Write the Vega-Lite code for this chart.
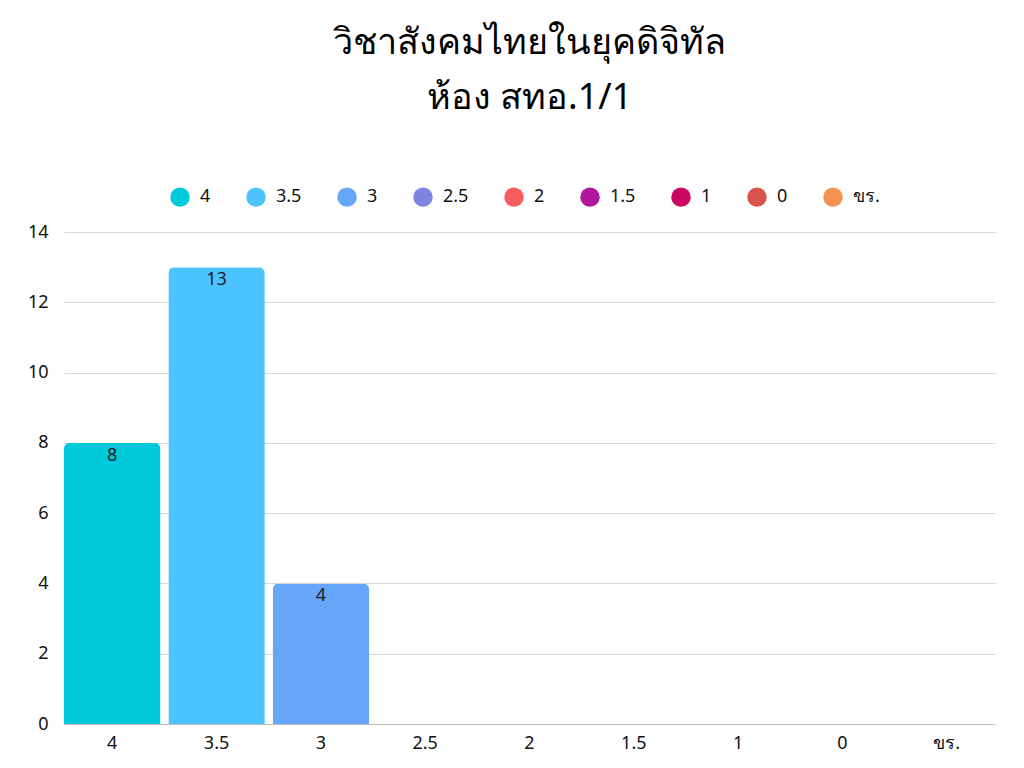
{
  "$schema": "https://vega.github.io/schema/vega-lite/v6.json",
  "width": 931,
  "height": 492,
  "autosize": {"type": "none"},
  "padding": {"left": 64, "top": 232, "right": 29, "bottom": 44},
  "background": "white",
  "config": {"view": {"stroke": null}},
  "title": {
    "text": ["วิชาสังคมไทยในยุคดิจิทัล", "ห้อง สทอ.1/1"],
    "font": "Noto Sans",
    "fontSize": 36,
    "fontWeight": "normal",
    "color": "#000000",
    "anchor": "middle",
    "frame": "group",
    "offset": 70,
    "lineHeight": 55
  },
  "data": {
    "values": [
      {"grade": "4", "count": 8},
      {"grade": "3.5", "count": 13},
      {"grade": "3", "count": 4},
      {"grade": "2.5", "count": 0},
      {"grade": "2", "count": 0},
      {"grade": "1.5", "count": 0},
      {"grade": "1", "count": 0},
      {"grade": "0", "count": 0},
      {"grade": "ขร.", "count": 0}
    ]
  },
  "encoding": {
    "x": {
      "field": "grade",
      "type": "nominal",
      "sort": null,
      "title": null,
      "scale": {"paddingInner": 0.075, "paddingOuter": 0.0},
      "axis": {
        "labelAngle": 0,
        "ticks": false,
        "domainColor": "#bbbbbb",
        "labelFont": "Noto Sans",
        "labelFontSize": 18,
        "labelColor": "#111111",
        "labelPadding": 10
      }
    },
    "y": {
      "field": "count",
      "type": "quantitative",
      "title": null,
      "scale": {"domain": [0, 14]},
      "axis": {
        "values": [0, 2, 4, 6, 8, 10, 12, 14],
        "ticks": false,
        "domain": false,
        "gridColor": "#d9d9d9",
        "labelFont": "Noto Sans",
        "labelFontSize": 18,
        "labelColor": "#111111",
        "labelPadding": 16
      }
    }
  },
  "layer": [
    {
      "mark": {"type": "bar", "cornerRadiusTopLeft": 6, "cornerRadiusTopRight": 6},
      "encoding": {
        "color": {
          "field": "grade",
          "type": "nominal",
          "sort": null,
          "scale": {
            "domain": ["4", "3.5", "3", "2.5", "2", "1.5", "1", "0", "ขร."],
            "range": ["#00C9DB", "#4CC4FF", "#66A6F8", "#7F84E3", "#F85C5E", "#B0179C", "#CA0662", "#D9544A", "#F4934F"]
          },
          "legend": {
            "title": null,
            "orient": "none",
            "legendX": 106,
            "legendY": -45,
            "direction": "horizontal",
            "symbolType": "circle",
            "symbolSize": 380,
            "symbolStrokeWidth": 0,
            "labelFont": "Noto Sans",
            "labelFontSize": 18,
            "labelColor": "#111111",
            "labelOffset": 10,
            "columnPadding": 35
          }
        }
      }
    },
    {
      "transform": [{"filter": "datum.count > 0"}],
      "mark": {"type": "text", "baseline": "middle", "dy": 13, "font": "Noto Sans", "fontSize": 18, "color": "#1a1a2a"},
      "encoding": {
        "text": {"field": "count", "type": "quantitative"}
      }
    }
  ]
}
